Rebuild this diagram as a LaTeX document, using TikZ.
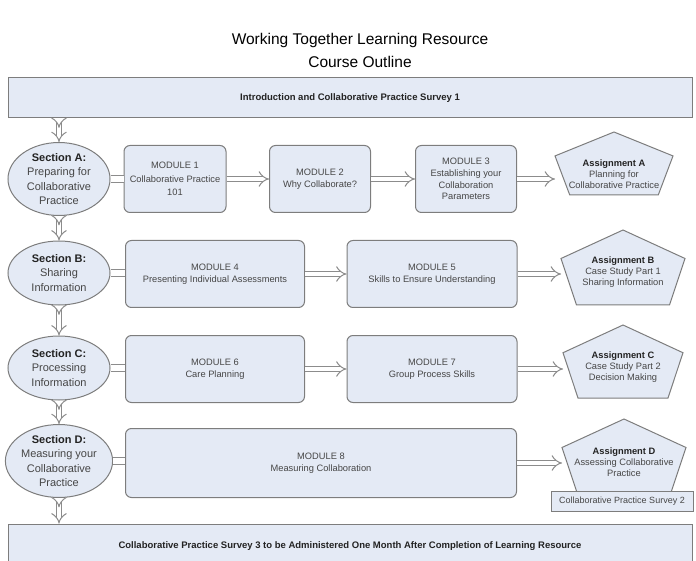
\documentclass[tikz,border=0pt]{standalone}
\usepackage{fontspec}
\setmainfont{Liberation Sans}
\usepackage{xcolor}
\usepackage{tikz}
\usetikzlibrary{shapes.geometric, arrows.meta, calc}
\definecolor{boxfill}{RGB}{228,234,245}
\definecolor{linegray}{RGB}{125,125,125}
\definecolor{arrowgray}{RGB}{140,140,140}
\definecolor{textgray}{RGB}{70,70,70}
\definecolor{textdark}{RGB}{35,35,35}
\tikzset{
  titletext/.style={align=center, font=\fontsize{15.5}{23}\selectfont, text=black},
  barbox/.style={rectangle, draw=linegray, line width=1pt, fill=boxfill, minimum width=684pt, inner sep=0pt, font=\fontsize{9.5}{11}\selectfont\bfseries, text=textdark},
  sectionnode/.style={ellipse, draw=linegray, line width=1pt, fill=boxfill, minimum width=102pt, minimum height=64pt, inner sep=0pt, align=center, font=\fontsize{11}{14.5}\selectfont, text=textgray},
  modulebox/.style={rectangle, rounded corners=6pt, draw=linegray, line width=1pt, fill=boxfill, minimum height=67pt, align=center, font=\fontsize{9.3}{12.5}\selectfont, text=textgray},
  assigntext/.style={align=center, font=\fontsize{9.3}{11}\selectfont, text=textgray},
  assignshape/.style={draw=linegray, line width=1pt, fill=boxfill},
  surveybox/.style={rectangle, draw=linegray, line width=1pt, fill=boxfill, minimum width=142pt, minimum height=20pt, font=\fontsize{9}{11}\selectfont, text=textgray},
  flow/.style={draw=arrowgray, double=white, double distance=4.5pt, line width=1pt, -{Implies}},
  link/.style={draw=arrowgray, double=white, double distance=6pt, line width=1pt},
  downflow/.style={flow, {Implies[reversed]}-{Implies}},
}
% pentagon: name, centre x, top y, half width, height, text y, text
\newcommand{\assignment}[7]{%
  \draw[assignshape] (#2,#3) -- ++(#4,0.38*#5) -- ++(-0.25*#4,0.62*#5) -- ++(-1.5*#4,0)
    -- ++(-0.25*#4,-0.62*#5) coordinate (#1-l) -- cycle;
  \node[assigntext] (#1) at (#2,#6) {#7};
}

\begin{document}
\begin{tikzpicture}[x=1pt, y=-1pt]
  \useasboundingbox (0,0) rectangle (696,561);

  % Nodes
  \node[titletext] (title) at (360,50) {Working Together Learning Resource\\Course Outline};
  \node[barbox, minimum height=40pt] (intro) at (350,98) {Introduction and Collaborative Practice Survey 1};
  \node[barbox, minimum height=44pt] (outro) at (350,546) {Collaborative Practice Survey 3 to be Administered One Month After Completion of Learning Resource};

  \node[sectionnode] (secA) at (59,179) {\textbf{\color{textdark}Section A:}\\Preparing for\\Collaborative\\Practice};
  \node[sectionnode] (secB) at (59,273) {\textbf{\color{textdark}Section B:}\\Sharing\\Information};
  \node[sectionnode] (secC) at (59,368) {\textbf{\color{textdark}Section C:}\\Processing\\Information};
  \node[sectionnode] (secD) at (59,461) {\textbf{\color{textdark}Section D:}\\Measuring your\\Collaborative\\Practice};

  \node[modulebox, minimum width=102pt, font=\fontsize{9.3}{13.5}\selectfont] (m1) at (175,179) {MODULE 1\\Collaborative Practice\\101};
  \node[modulebox, minimum width=101pt] (m2) at (320,179) {MODULE 2\\Why Collaborate?};
  \node[modulebox, minimum width=101pt, font=\fontsize{9.3}{11.7}\selectfont] (m3) at (466,179) {MODULE 3\\Establishing your\\Collaboration\\Parameters};
  \node[modulebox, minimum width=179pt] (m4) at (215,274) {MODULE 4\\Presenting Individual Assessments};
  \node[modulebox, minimum width=170pt] (m5) at (432,274) {MODULE 5\\Skills to Ensure Understanding};
  \node[modulebox, minimum width=179pt] (m6) at (215,369) {MODULE 6\\Care Planning};
  \node[modulebox, minimum width=170pt] (m7) at (432,369) {MODULE 7\\Group Process Skills};
  \node[modulebox, minimum width=391pt, minimum height=69pt] (m8) at (321,463) {MODULE 8\\Measuring Collaboration};

  \assignment{asgA}{614}{132}{59}{63}{174}{\textbf{\color{textdark}Assignment A}\\Planning for\\Collaborative Practice}
  \assignment{asgB}{623}{230}{62}{75}{272}{\textbf{\color{textdark}Assignment B}\\Case Study Part 1\\Sharing Information}
  \assignment{asgC}{623}{325}{60}{73}{367}{\textbf{\color{textdark}Assignment C}\\Case Study Part 2\\Decision Making}
  \assignment{asgD}{624}{419}{62}{75}{462}{\textbf{\color{textdark}Assignment D}\\Assessing Collaborative\\Practice}
  \node[surveybox] (survey2) at (622,501) {Collaborative Practice Survey 2};

  % Arrows
  \draw[downflow] (intro.south -| secA) -- (secA);
  \draw[downflow] (secA) -- (secB);
  \draw[downflow] (secB) -- (secC);
  \draw[downflow] (secC) -- (secD);
  \draw[downflow] (secD) -- (outro.north -| secD);

  \draw[link] (secA) -- (m1);
  \draw[link] (secB) -- (secB -| m4.west);
  \draw[link] (secC) -- (secC -| m6.west);
  \draw[link] (secD) -- (secD -| m8.west);

  \draw[flow] (m1) -- (m2);
  \draw[flow] (m2) -- (m3);
  \draw[flow] (m3) -- (m3 -| asgA-l);
  \draw[flow] (m4) -- (m5);
  \draw[flow] (m5) -- (m5 -| asgB-l);
  \draw[flow] (m6) -- (m7);
  \draw[flow] (m7) -- (m7 -| asgC-l);
  \draw[flow] (m8) -- (m8 -| asgD-l);
\end{tikzpicture}
\end{document}
